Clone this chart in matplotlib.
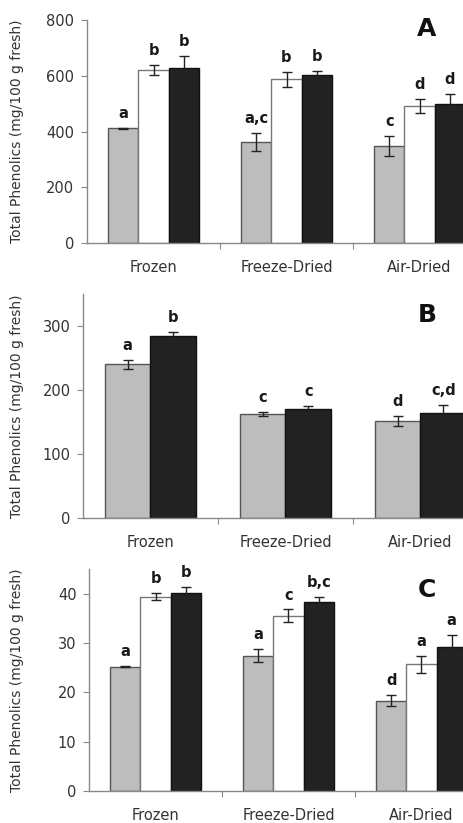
import numpy as np
import matplotlib.pyplot as plt

plt.rcParams['font.family'] = ['DejaVu Sans']

categories = ['Frozen', 'Freeze-Dried', 'Air-Dried']
ylabel = 'Total Phenolics (mg/100 g fresh)'

# panel A: three series
a_vals = [[411, 363, 348], [620, 588, 491], [629, 601, 499]]
a_errs = [[2, 33, 35], [18, 27, 24], [43, 15, 34]]
a_lets = [['a', 'a,c', 'c'], ['b', 'b', 'd'], ['b', 'b', 'd']]

# panel B: two series
b_vals = [[240, 163, 151], [284, 170, 164]]
b_errs = [[7, 3, 8], [6, 5, 12]]
b_lets = [['a', 'c', 'd'], ['b', 'c', 'c,d']]

# panel C: three series
c_vals = [[25.2, 27.4, 18.3], [39.4, 35.5, 25.7], [40.1, 38.3, 29.1]]
c_errs = [[0.15, 1.3, 1.1], [0.7, 1.3, 1.7], [1.3, 1.1, 2.6]]
c_lets = [['a', 'a', 'd'], ['b', 'c', 'a'], ['b', 'b,c', 'a']]

W, H = 464, 823
fig = plt.figure(figsize=(W / 100, H / 100), dpi=100)

def panel(x0, xtick, y0, ytop, ymax, yticks, vals, errs, lets, styles):
    width_px = 3 * (xtick - x0)
    ax = fig.add_axes([x0 / W, (H - y0) / H, width_px / W, (y0 - ytop) / H])
    n = len(vals)
    gw = 0.68
    bw = gw / n
    centers = np.arange(3) + 0.5
    for i in range(n):
        xs = centers - gw / 2 + bw * (i + 0.5)
        fc, ec = styles[i]
        ax.bar(xs, vals[i], bw, color=fc, edgecolor=ec, linewidth=1.0, zorder=2)
        ax.errorbar(xs, vals[i], yerr=errs[i], fmt='none', ecolor='#222222',
                    elinewidth=1.0, capsize=3.5, capthick=1.0, zorder=3)
        for x, v, e, t in zip(xs, vals[i], errs[i], lets[i]):
            ax.annotate(t, (x, v + e), xytext=(0, 5), textcoords='offset points',
                        ha='center', va='bottom', fontsize=10.5, fontweight='bold',
                        family=['DejaVu Sans Condensed', 'DejaVu Sans'], color='#1a1a1a')
    ax.set_xlim(0, 3)
    ax.set_ylim(0, ymax)
    ax.set_yticks(yticks)
    ax.set_xticks([1, 2])
    ax.set_xticklabels([])
    ax.set_xticks(centers, minor=True)
    ax.set_xticklabels(categories, minor=True)
    ax.tick_params(axis='x', which='minor', length=0, pad=12, labelsize=10.5, labelcolor='#333333')
    ax.tick_params(axis='x', which='major', length=4, color='#888888')
    ax.tick_params(axis='y', length=4, color='#888888', labelsize=10.5, labelcolor='#333333', pad=5)
    for s in ['top', 'right']:
        ax.spines[s].set_visible(False)
    for s in ['left', 'bottom']:
        ax.spines[s].set_color('#888888')
        ax.spines[s].set_linewidth(1.0)
    ax.set_ylabel(ylabel, fontsize=10, color='#333333')
    ax.yaxis.set_label_coords((24 - x0) / width_px, 0.5)
    return ax

gray = ('#bdbdbd', '#555555')
white = ('#ffffff', '#777777')
black = ('#222222', '#111111')

axA = panel(87, 220, 243, 20, 800, [0, 200, 400, 600, 800], a_vals, a_errs, a_lets,
            [gray, white, black])
axB = panel(83, 218, 518, 294, 350, [0, 100, 200, 300], b_vals, b_errs, b_lets,
            [gray, black])
axC = panel(89, 222, 791, 569, 45, [0, 10, 20, 30, 40], c_vals, c_errs, c_lets,
            [gray, white, black])

for tag, y in [('A', 29), ('B', 315), ('C', 590)]:
    fig.text(427 / W, 1 - y / H, tag, ha='center', va='center', fontsize=18,
             fontweight='bold', color='#111111')

fig.savefig('out.png', dpi=100)
